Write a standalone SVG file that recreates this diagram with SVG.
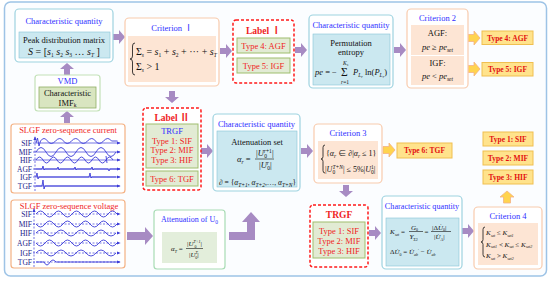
<svg xmlns="http://www.w3.org/2000/svg" width="550" height="281" viewBox="0 0 550 281">
<defs>
<style>
text{font-family:"Liberation Serif","Times New Roman","Noto Sans CJK SC",serif;font-size:8.5px;fill:#111}
.ttl{fill:#2f2fff}
.rd{fill:#f01e1e}
.c{text-anchor:middle}
.i{font-style:italic}
.n{font-style:normal}
.b{font-weight:bold}
.cq{fill:#fff;stroke:#9ed3e0;stroke-width:1.2}
.cqi{fill:#cbe8f0;stroke:#86c4d6;stroke-width:.6}
.cr{fill:#fff;stroke:#f8cbad;stroke-width:1.2}
.cri{fill:#fde5d4}
.lb{fill:#fff;stroke:#ff1a1a;stroke-width:1.5;stroke-dasharray:3 2}
.gr{fill:#e2ebd4;stroke:#9fbe6e;stroke-width:1}
.yb{fill:#ffe38c;stroke:#f0bf50;stroke-width:1}
.yt{font-weight:bold;font-size:7.5px;fill:#e31010}
.pa{fill:#a78bc3}
.ya{fill:#ffd44f;stroke:#f4b183;stroke-width:.8}
.wv{fill:none;stroke:#3b3bd8;stroke-width:.9}
.ax{stroke:#3b3bd8;stroke-width:.7;marker-end:url(#ah)}
.dx{stroke-dasharray:2 1.5}
.br{fill:none;stroke:#111;stroke-width:.8}
.wl{font-size:7.5px;fill:#22228a;text-anchor:end}
.s{font-size:5.5px}
.ss{font-size:4px}
.fl{stroke:#111;stroke-width:.6}
</style>
<marker id="ah" viewBox="0 0 6 6" refX="5" refY="3" markerWidth="4" markerHeight="4" orient="auto" markerUnits="userSpaceOnUse"><path d="M0,0.5 L6,3 L0,5.5 Z" fill="#3b3bd8"/></marker>
<path id="pr" d="M0,-3 H6 V-7 L12,0 L6,7 V3 H0 Z"/>
<path id="yr" d="M0,-3.5 H6 V-7 L12,0 L6,7 V3.5 H0 Z"/>
</defs>

<g id="frame">
<rect x="4.5" y="2" width="542" height="274" rx="6" fill="#fbfdff" stroke="#9dc3e6" stroke-width="1.5"/>
</g>

<g id="connectors">
<use href="#pr" class="pa" transform="translate(113,37)"/>
<use href="#pr" class="pa" transform="translate(67,75) rotate(-90)"/>
<use href="#pr" class="pa" transform="translate(67,123) rotate(-90)"/>
<use href="#pr" class="pa" transform="translate(220,51)"/>
<use href="#pr" class="pa" transform="translate(295,50)"/>
<use href="#pr" class="pa" transform="translate(394,50)"/>
<use href="#yr" class="ya" transform="translate(468,38)"/>
<use href="#yr" class="ya" transform="translate(468,69)"/>
<use href="#pr" class="pa" transform="translate(172,91) rotate(90)"/>
<use href="#pr" class="pa" transform="translate(201,151)"/>
<use href="#pr" class="pa" transform="translate(301,151)"/>
<use href="#yr" class="ya" transform="translate(383,150)"/>
<use href="#pr" class="pa" transform="translate(346,185) rotate(90)"/>
<use href="#pr" class="pa" transform="translate(369,233)"/>
<use href="#pr" class="pa" transform="translate(462,231)"/>
<use href="#yr" class="ya" transform="translate(507,203) rotate(-90)"/>
<path class="pa" d="M127,232 H145 V227 L153,236 L145,245 V240 H127 Z"/>
<path class="pa" d="M229,232 H247 V222 H242 L251,212 L260,222 H255 V240 H229 Z"/>
</g>

<g id="cq-peak">
<rect class="cq" x="15" y="9" width="98" height="53" rx="4"/>
<text class="ttl c" x="64" y="24">Characteristic quantity</text>
<rect class="cqi" x="19" y="32" width="91" height="26"/>
<text class="c" x="64" y="43">Peak distribution matrix</text>
<text class="c" x="64" y="55" style="font-size:10px"><tspan class="i">S</tspan> = [<tspan class="i">s</tspan><tspan class="s" dy="2">1</tspan><tspan dy="-2"> </tspan><tspan class="i">s</tspan><tspan class="s" dy="2">2</tspan><tspan dy="-2"> </tspan><tspan class="i">s</tspan><tspan class="s" dy="2">3</tspan><tspan dy="-2"> … </tspan><tspan class="i">s</tspan><tspan class="s i" dy="2">T</tspan><tspan dy="-2"> ]</tspan></text>
</g>

<g id="vmd">
<rect x="35" y="75" width="65" height="36" rx="3" fill="#fff" stroke="#c3e2b8" stroke-width="1.2"/>
<text class="ttl c" x="67.5" y="84">VMD</text>
<rect x="39" y="87" width="57" height="21" fill="#d9e5c0" stroke="#8fae64" stroke-width=".8"/>
<text class="c" x="67.5" y="96">Characteristic</text>
<text class="c" x="67.5" y="105.5">IMF<tspan class="s" dy="1.5">k</tspan></text>
</g>

<g id="zs-current">
<rect x="11" y="124" width="114" height="69" rx="3" fill="#fff" stroke="#f4b183" stroke-width="1.2"/>
<text class="rd c" x="68" y="133">SLGF zero-sequence current</text>
<line class="ax dx" x1="35" y1="191" x2="35" y2="137"/>
<line class="ax" x1="33" y1="143" x2="120" y2="143"/>
<line class="ax" x1="33" y1="152" x2="120" y2="152"/>
<line class="ax" x1="33" y1="160" x2="120" y2="160"/>
<line class="ax" x1="33" y1="169" x2="120" y2="169"/>
<line class="ax" x1="33" y1="177" x2="120" y2="177"/>
<line class="ax" x1="33" y1="186" x2="120" y2="186"/>
<text class="wl" x="32" y="145.7">SIF</text>
<text class="wl" x="32" y="154.7">MIF</text>
<text class="wl" x="32" y="162.7">HIF</text>
<text class="wl" x="32" y="171.7">AGF</text>
<text class="wl" x="32" y="179.7">IGF</text>
<text class="wl" x="32" y="188.7">TGF</text>
<path class="wv" d="M36,143 l1.5,-5 l1.5,8 l1.5,-5 q3.5,-5 7,0 t8,0 t8,0 t8,0 t8,0 t8,0 t8,0 t8,0 t8,0 l6,0"/>
<path class="wv" d="M36,152 q5,-9 10,0 t10,0 t10,0 t10,0 t10,0 t10,0 t10,0 t10,0"/>
<path class="wv" d="M36,160 q3.5,-6 7,0 t7,0 t7,0 t7,0 t7,0 t7,0 t7,0 t7,0 t7,0 t7,0 t7,0 M106,156 l1,7"/>
<path class="wv" d="M36,169 h6 l1,-3 l1,4 l1,-1 h12 l1,-2 l1,3 l1,-1 h14 l1,-2 l1,3 l1,-1 h14 l1,-2 l1,3 l1,-1 h14 l1,2 l1,-2 h10"/>
<path class="wv" d="M36,177 l1,-4 l1,6 l1,-2 h50 l1,-4 l1,5 l1,-1 h24"/>
<path class="wv" d="M36,186 h6 l1,-6 l1,9 l1,-3 h72"/>
</g>

<g id="zs-voltage">
<rect x="11" y="200" width="114" height="68" rx="3" fill="#fff" stroke="#f4b183" stroke-width="1.2"/>
<text class="rd c" x="69" y="208.5">SLGF zero-sequence voltage</text>
<line class="ax dx" x1="34" y1="267" x2="34" y2="209"/>
<line class="ax dx" x1="33" y1="214" x2="120" y2="214"/>
<line class="ax dx" x1="33" y1="224" x2="120" y2="224"/>
<line class="ax dx" x1="33" y1="233" x2="120" y2="233"/>
<line class="ax dx" x1="33" y1="243" x2="120" y2="243"/>
<line class="ax dx" x1="33" y1="253" x2="120" y2="253"/>
<line class="ax dx" x1="33" y1="262" x2="120" y2="262"/>
<text class="wl" x="32" y="216.7">SIF</text>
<text class="wl" x="32" y="226.7">MIF</text>
<text class="wl" x="32" y="235.7">HIF</text>
<text class="wl" x="32" y="245.7">AGF</text>
<text class="wl" x="32" y="255.7">IGF</text>
<text class="wl" x="32" y="264.7">TGF</text>
<path class="wv" d="M36,214 q4.5,-6 9,0 t9,0 t9,0 t9,0 t9,0 t9,0 t9,0 t9,0 t9,0"/>
<path class="wv" d="M36,224 q4.5,6 9,0 t9,0 t9,0 t9,0 t9,0 t9,0 t9,0 t9,0 t9,0"/>
<path class="wv" d="M36,233 q5,-6 10,0 t10,0 t10,0 t10,0 t10,0 t10,0 t10,0 t10,0"/>
<path class="wv" d="M36,243 q4.5,6 9,0 t9,0 t9,0 t9,0 t9,0 t9,0 t9,0 t9,0 t9,0"/>
<path class="wv" d="M36,253 q5,-6 10,0 t10,0 t10,0 t10,0 t10,0 t10,0 t10,0 t10,0"/>
<path class="wv" d="M36,262 h8 q3,6 6,0 q3,-4 6,0 h64"/>
</g>

<g id="criterion1">
<rect class="cr" x="125" y="18" width="94" height="68" rx="4"/>
<text class="ttl c" x="172" y="31">Criterion Ⅰ</text>
<rect class="cri" x="128" y="36" width="88" height="46"/>
<path class="br" d="M135,43 q-2.5,0 -2.5,3 v10 q0,3 -2.5,3 q2.5,0 2.5,3 v10 q0,3 2.5,3"/>
<text x="136" y="55" style="font-size:10px">Σ<tspan class="s i" dy="2">s</tspan><tspan dy="-2"> = </tspan><tspan class="i">s</tspan><tspan class="s" dy="2">1</tspan><tspan dy="-2"> + </tspan><tspan class="i">s</tspan><tspan class="s" dy="2">2</tspan><tspan dy="-2"> + ··· + </tspan><tspan class="i">s</tspan><tspan class="s i" dy="2">T</tspan></text>
<text x="136" y="70" style="font-size:10px">Σ<tspan class="s i" dy="2">s</tspan><tspan dy="-2"> &gt; 1</tspan></text>
</g>

<g id="label1">
<rect class="lb" x="233" y="20" width="61" height="63" rx="3"/>
<text class="rd c b" x="263.5" y="34" style="font-size:9.5px">Label Ⅰ</text>
<rect class="gr" x="237" y="38" width="53" height="15"/>
<text class="rd c" x="263.5" y="48.5">Type 4: AGF</text>
<rect class="gr" x="237" y="58" width="53" height="15"/>
<text class="rd c" x="263.5" y="68.5">Type 5: IGF</text>
</g>

<g id="cq-pe">
<rect class="cq" x="309" y="15" width="84" height="73" rx="4"/>
<text class="ttl c" x="351" y="28">Characteristic quantity</text>
<rect class="cqi" x="313" y="34" width="77" height="51"/>
<text class="c" x="351" y="46">Permutation</text>
<text class="c" x="351" y="55">entropy</text>
<text x="315" y="75"><tspan class="i">pe</tspan> = −</text>
<text x="341" y="75.5" style="font-size:11.5px">Σ</text>
<text class="s i" x="343" y="65">K<tspan class="ss" dy="1">s</tspan></text>
<text class="s" x="341" y="84.2"><tspan class="i">r</tspan>=1</text>
<text x="353" y="75"><tspan class="i">P</tspan><tspan class="s i" dy="2">L</tspan><tspan class="ss i" dy="1">r</tspan><tspan dy="-3"> ln(</tspan><tspan class="i">P</tspan><tspan class="s i" dy="2">L</tspan><tspan class="ss i" dy="1">r</tspan><tspan dy="-3">)</tspan></text>
</g>

<g id="criterion2">
<rect class="cr" x="407" y="9" width="61" height="79" rx="4"/>
<text class="ttl c" x="437.5" y="21">Criterion 2</text>
<rect class="cri" x="411" y="25" width="53" height="30"/>
<rect class="cri" x="411" y="56" width="53" height="29"/>
<text class="c" x="437.5" y="36">AGF:</text>
<text class="c i" x="437.5" y="50">pe <tspan class="n">≥</tspan> pe<tspan class="s" dy="1.5">set</tspan></text>
<text class="c" x="437.5" y="66">IGF:</text>
<text class="c i" x="437.5" y="79">pe <tspan class="n">&lt;</tspan> pe<tspan class="s" dy="1.5">set</tspan></text>
</g>

<g id="type4"><rect class="yb" x="482" y="31" width="51" height="13.5"/><text class="yt c" x="507.5" y="40.5">Type 4: AGF</text></g>
<g id="type5"><rect class="yb" x="482" y="62.5" width="51" height="13.5"/><text class="yt c" x="507.5" y="72">Type 5: IGF</text></g>

<g id="label2">
<rect class="lb" x="143" y="108" width="58" height="82" rx="3"/>
<text class="rd c b" x="172" y="120.5" style="font-size:9.5px">Label Ⅱ</text>
<rect class="gr" x="146" y="124" width="52" height="44"/>
<text class="ttl c" x="172" y="134">TRGF</text>
<text class="rd c" x="172" y="143.5">Type 1: SIF</text>
<text class="rd c" x="172" y="153">Type 2: MIF</text>
<text class="rd c" x="172" y="162.5">Type 3: HIF</text>
<rect class="gr" x="146" y="171" width="52" height="15"/>
<text class="rd c" x="172" y="181.5">Type 6: TGF</text>
</g>

<g id="cq-att">
<rect class="cq" x="213" y="114" width="87" height="77" rx="4"/>
<text class="ttl c" x="256.5" y="127">Characteristic quantity</text>
<rect class="cqi" x="217" y="131" width="80" height="56"/>
<text class="c" x="257" y="145">Attenuation set</text>
<text x="237" y="162"><tspan class="i">α</tspan><tspan class="s i" dy="1.5">r</tspan><tspan dy="-1.5"> =</tspan></text>
<line class="fl" x1="255" y1="159" x2="274" y2="159"/>
<text x="256" y="156">|<tspan class="i">U</tspan><tspan class="s" dy="-3.5"><tspan class="i">r</tspan>+1</tspan><tspan class="s" dx="-7.7" dy="5.5">0</tspan><tspan dx="5" dy="-2">|</tspan></text>
<text x="259" y="168">|<tspan class="i">U</tspan><tspan class="s i" dy="-3.5">r</tspan><tspan class="s" dx="-1.8" dy="5.5">0</tspan><tspan dy="-2">|</tspan></text>
<text x="219" y="185" style="font-size:7.5px">∂ = {<tspan class="i">α</tspan><tspan class="s i" dy="1.5">T+1</tspan><tspan dy="-1.5">, </tspan><tspan class="i">α</tspan><tspan class="s i" dy="1.5">T+2</tspan><tspan dy="-1.5">,…, </tspan><tspan class="i">α</tspan><tspan class="s i" dy="1.5">T+N</tspan><tspan dy="-1.5">}</tspan></text>
</g>

<g id="criterion3">
<rect class="cr" x="314" y="124" width="68" height="59" rx="4"/>
<text class="ttl c" x="348" y="136">Criterion 3</text>
<rect class="cri" x="318" y="141" width="60" height="38"/>
<path class="br" d="M325,145 q-2,0 -2,2.5 v9 q0,2.5 -2,2.5 q2,0 2,2.5 v9 q0,2.5 2,2.5"/>
<text x="326" y="156" style="font-size:8px">{<tspan class="i">α</tspan><tspan class="s i" dy="1.5">r</tspan><tspan dy="-1.5"> ∈ ∂|</tspan><tspan class="i">α</tspan><tspan class="s i" dy="1.5">r</tspan><tspan dy="-1.5"> ≤ 1}</tspan></text>
<text x="325" y="172" style="font-size:8px">|<tspan class="i">U</tspan><tspan class="s i" dy="-3">T+N</tspan><tspan class="s" dx="-10.4" dy="5">0</tspan><tspan dx="7.7" dy="-2">| ≤ 5%|</tspan><tspan class="i">U</tspan><tspan class="s" dy="-3">1</tspan><tspan class="s" dx="-2.75" dy="5">0</tspan><tspan dy="-2">|</tspan></text>
</g>

<g id="type6"><rect class="yb" x="397" y="143" width="55" height="15"/><text class="yt c" x="424.5" y="153.3">Type 6: TGF</text></g>
<g id="type1"><rect class="yb" x="483" y="132" width="50" height="14"/><text class="yt c" x="508" y="141.8">Type 1: SIF</text></g>
<g id="type2"><rect class="yb" x="483" y="151" width="50" height="14"/><text class="yt c" x="508" y="160.8">Type 2: MIF</text></g>
<g id="type3"><rect class="yb" x="483" y="170" width="50" height="14"/><text class="yt c" x="508" y="179.8">Type 3: HIF</text></g>

<g id="atten-u0">
<rect x="154" y="210" width="71" height="59" rx="3" fill="#fff" stroke="#a8dcb4" stroke-width="1.2"/>
<text class="ttl c" x="189.5" y="222" style="font-size:8px">Attenuation of  U<tspan class="s" dy="1.5">0</tspan></text>
<rect x="162" y="232" width="55" height="31" fill="#e3eedb"/>
<text x="171" y="251" style="font-size:7px"><tspan class="i">α</tspan><tspan class="ss i" dy="1.5">T</tspan><tspan dy="-1.5"> =</tspan></text>
<line class="fl" x1="186" y1="248.5" x2="203" y2="248.5"/>
<text x="187" y="246" style="font-size:7px">|<tspan class="i">U</tspan><tspan class="ss i" dy="-3">T+1</tspan><tspan class="ss" dx="-6" dy="4.5">0</tspan><tspan dx="4" dy="-1.5">|</tspan></text>
<text x="189" y="257" style="font-size:7px">|<tspan class="i">U</tspan><tspan class="ss i" dy="-3">T</tspan><tspan class="ss" dx="-2.4" dy="4.5">0</tspan><tspan dy="-1.5">|</tspan></text>
</g>

<g id="trgf">
<rect class="lb" x="310" y="205" width="58" height="62" rx="3"/>
<text class="rd c b" x="339" y="218" style="font-size:9.5px">TRGF</text>
<rect class="gr" x="313" y="222" width="52" height="36"/>
<text class="rd c" x="339" y="234">Type 1: SIF</text>
<text class="rd c" x="339" y="244">Type 2: MIF</text>
<text class="rd c" x="339" y="254">Type 3: HIF</text>
</g>

<g id="cq-k">
<rect class="cq" x="382" y="196" width="80" height="73" rx="4"/>
<text class="ttl c" x="422" y="209" style="font-size:8.2px">Characteristic quantity</text>
<rect class="cqi" x="386" y="218" width="73" height="48"/>
<text x="390" y="234" style="font-size:7px"><tspan class="i">K</tspan><tspan class="ss i" dy="1.5">set</tspan><tspan dy="-1.5"> =</tspan></text>
<line class="fl" x1="409" y1="231.5" x2="423" y2="231.5"/>
<text x="411" y="229.5" style="font-size:7px"><tspan class="i">G</tspan><tspan class="ss" dy="1.5">0</tspan></text>
<text x="409.5" y="239" style="font-size:7px"><tspan class="i">Y</tspan><tspan class="ss" dy="1.5">Σ2</tspan></text>
<text x="424.5" y="234" style="font-size:7px">=</text>
<line class="fl" x1="431" y1="231.5" x2="451" y2="231.5"/>
<text x="432" y="229.5" style="font-size:7px">|Δ<tspan class="i">U&#x307;</tspan><tspan class="ss" dy="1.5">0</tspan><tspan dy="-1.5">|</tspan></text>
<text x="434" y="239" style="font-size:7px">|<tspan class="i">U&#x307;</tspan><tspan class="ss" dy="1.5">A</tspan><tspan dy="-1.5">|</tspan></text>
<text x="390" y="254" style="font-size:7px">Δ<tspan class="i">U&#x307;</tspan><tspan class="ss" dy="1.5">0</tspan><tspan dy="-1.5"> = </tspan><tspan class="i">U&#x307;</tspan><tspan class="ss i" dy="1.5">ab</tspan><tspan class="ss" dy="-4">′</tspan><tspan dy="2.5"> − </tspan><tspan class="i">U&#x307;</tspan><tspan class="ss i" dy="1.5">ab</tspan></text>
</g>

<g id="criterion4">
<rect class="cr" x="474" y="207" width="68" height="62" rx="4"/>
<text class="ttl c" x="508" y="219">Criterion 4</text>
<rect class="cri" x="478" y="223" width="60" height="42"/>
<path class="br" d="M485,227 q-2,0 -2,2.5 v10 q0,2.5 -2,2.5 q2,0 2,2.5 v10 q0,2.5 2,2.5"/>
<text x="486" y="235" style="font-size:7px"><tspan class="i">K</tspan><tspan class="ss i" dy="1.5">set</tspan><tspan dy="-1.5"> ≤ </tspan><tspan class="i">K</tspan><tspan class="ss i" dy="1.5">set1</tspan></text>
<text x="486" y="246.5" style="font-size:7px"><tspan class="i">K</tspan><tspan class="ss i" dy="1.5">set1</tspan><tspan dy="-1.5"> &lt; </tspan><tspan class="i">K</tspan><tspan class="ss i" dy="1.5">set</tspan><tspan dy="-1.5"> ≤ </tspan><tspan class="i">K</tspan><tspan class="ss i" dy="1.5">set2</tspan></text>
<text x="486" y="258" style="font-size:7px"><tspan class="i">K</tspan><tspan class="ss i" dy="1.5">set</tspan><tspan dy="-1.5"> &gt; </tspan><tspan class="i">K</tspan><tspan class="ss i" dy="1.5">set2</tspan></text>
</g>
</svg>
